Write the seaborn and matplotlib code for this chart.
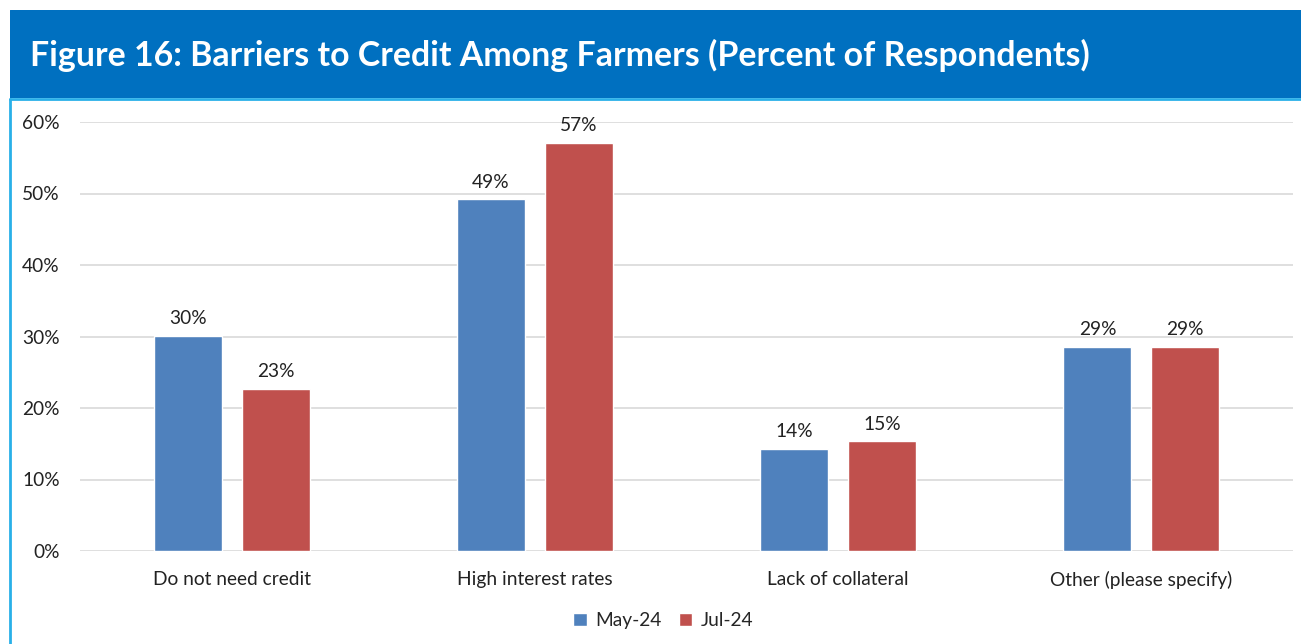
import matplotlib
matplotlib.use("Agg")
import matplotlib.pyplot as plt
import matplotlib.patches as mpatches
from matplotlib.lines import Line2D
import seaborn as sns
import pandas as pd

categories = ["Do not need credit", "High interest rates", "Lack of collateral", "Other (please specify)"]
may_24 = [30.1, 49.2, 14.3, 28.6]
jul_24 = [22.7, 57.1, 15.4, 28.6]
series_names = ["May-24", "Jul-24"]
y_ticks = [0, 10, 20, 30, 40, 50, 60]
title = "Figure 16: Barriers to Credit Among Farmers (Percent of Respondents)"

df = pd.DataFrame({
    "category": categories * 2,
    "series": [series_names[0]] * 4 + [series_names[1]] * 4,
    "value": may_24 + jul_24,
})

sns.set_theme(style="white")
plt.rcParams["font.family"] = ["Lato", "DejaVu Sans"]

W, H = 1301, 644
fig = plt.figure(figsize=(W / 100, H / 100), dpi=100)

# Title band
band = fig.add_axes([10 / W, 1 - 98 / H, 1 - 10 / W, 88 / H])
band.set_axis_off()
band.add_patch(mpatches.Rectangle((0, 0), 1, 1, transform=band.transAxes, color="#0070C0"))
band.text(20 / 1291, 0.48, title, transform=band.transAxes, color="white",
          fontsize=24.4, fontweight="bold", va="center", ha="left")
fig.add_artist(Line2D([10 / W, 1], [1 - 99 / H, 1 - 99 / H], color="#29B0E8", lw=2))
fig.add_artist(Line2D([9.5 / W, 9.5 / W], [0, 1 - 99 / H], color="#29B0E8", lw=2))

# Plot area
x0, x1 = 80, 1293
y_top, y_bot = 122, 551
ax = fig.add_axes([x0 / W, 1 - y_bot / H, (x1 - x0) / W, (y_bot - y_top) / H])
sns.barplot(data=df, x="category", y="value", hue="series",
            palette=["#4F81BD", "#C0504D"], width=0.58, gap=0.225,
            saturation=1, ax=ax, legend=True)
ax.set_ylim(0, 60)
ax.set_xlim(-0.5, 3.5)
ax.set_yticks(y_ticks)
ax.set_yticklabels([f"{t}%" for t in y_ticks], fontsize=13.8, color="#222222")
ax.tick_params(axis="y", length=0, pad=14.5)
ax.tick_params(axis="x", length=0, pad=14.5, labelsize=13.8, labelcolor="#222222")
ax.set_xlabel("")
ax.set_ylabel("")
ax.yaxis.grid(True, color="#D9D9D9", lw=1.2)
ax.set_axisbelow(True)
for s in ax.spines.values():
    s.set_visible(False)

for cont in ax.containers:
    ax.bar_label(cont, labels=[f"{v:.0f}%" for v in cont.datavalues],
                 padding=6, fontsize=13.8, color="#222222")

handles, labels = ax.get_legend_handles_labels()
ax.legend(handles, labels, loc="center", bbox_to_anchor=(0.481, -0.162), ncol=2,
          frameon=False, fontsize=13.8, handlelength=0.7, handleheight=0.7,
          handletextpad=0.45, columnspacing=0.9)

fig.savefig("out.png", dpi=100)
